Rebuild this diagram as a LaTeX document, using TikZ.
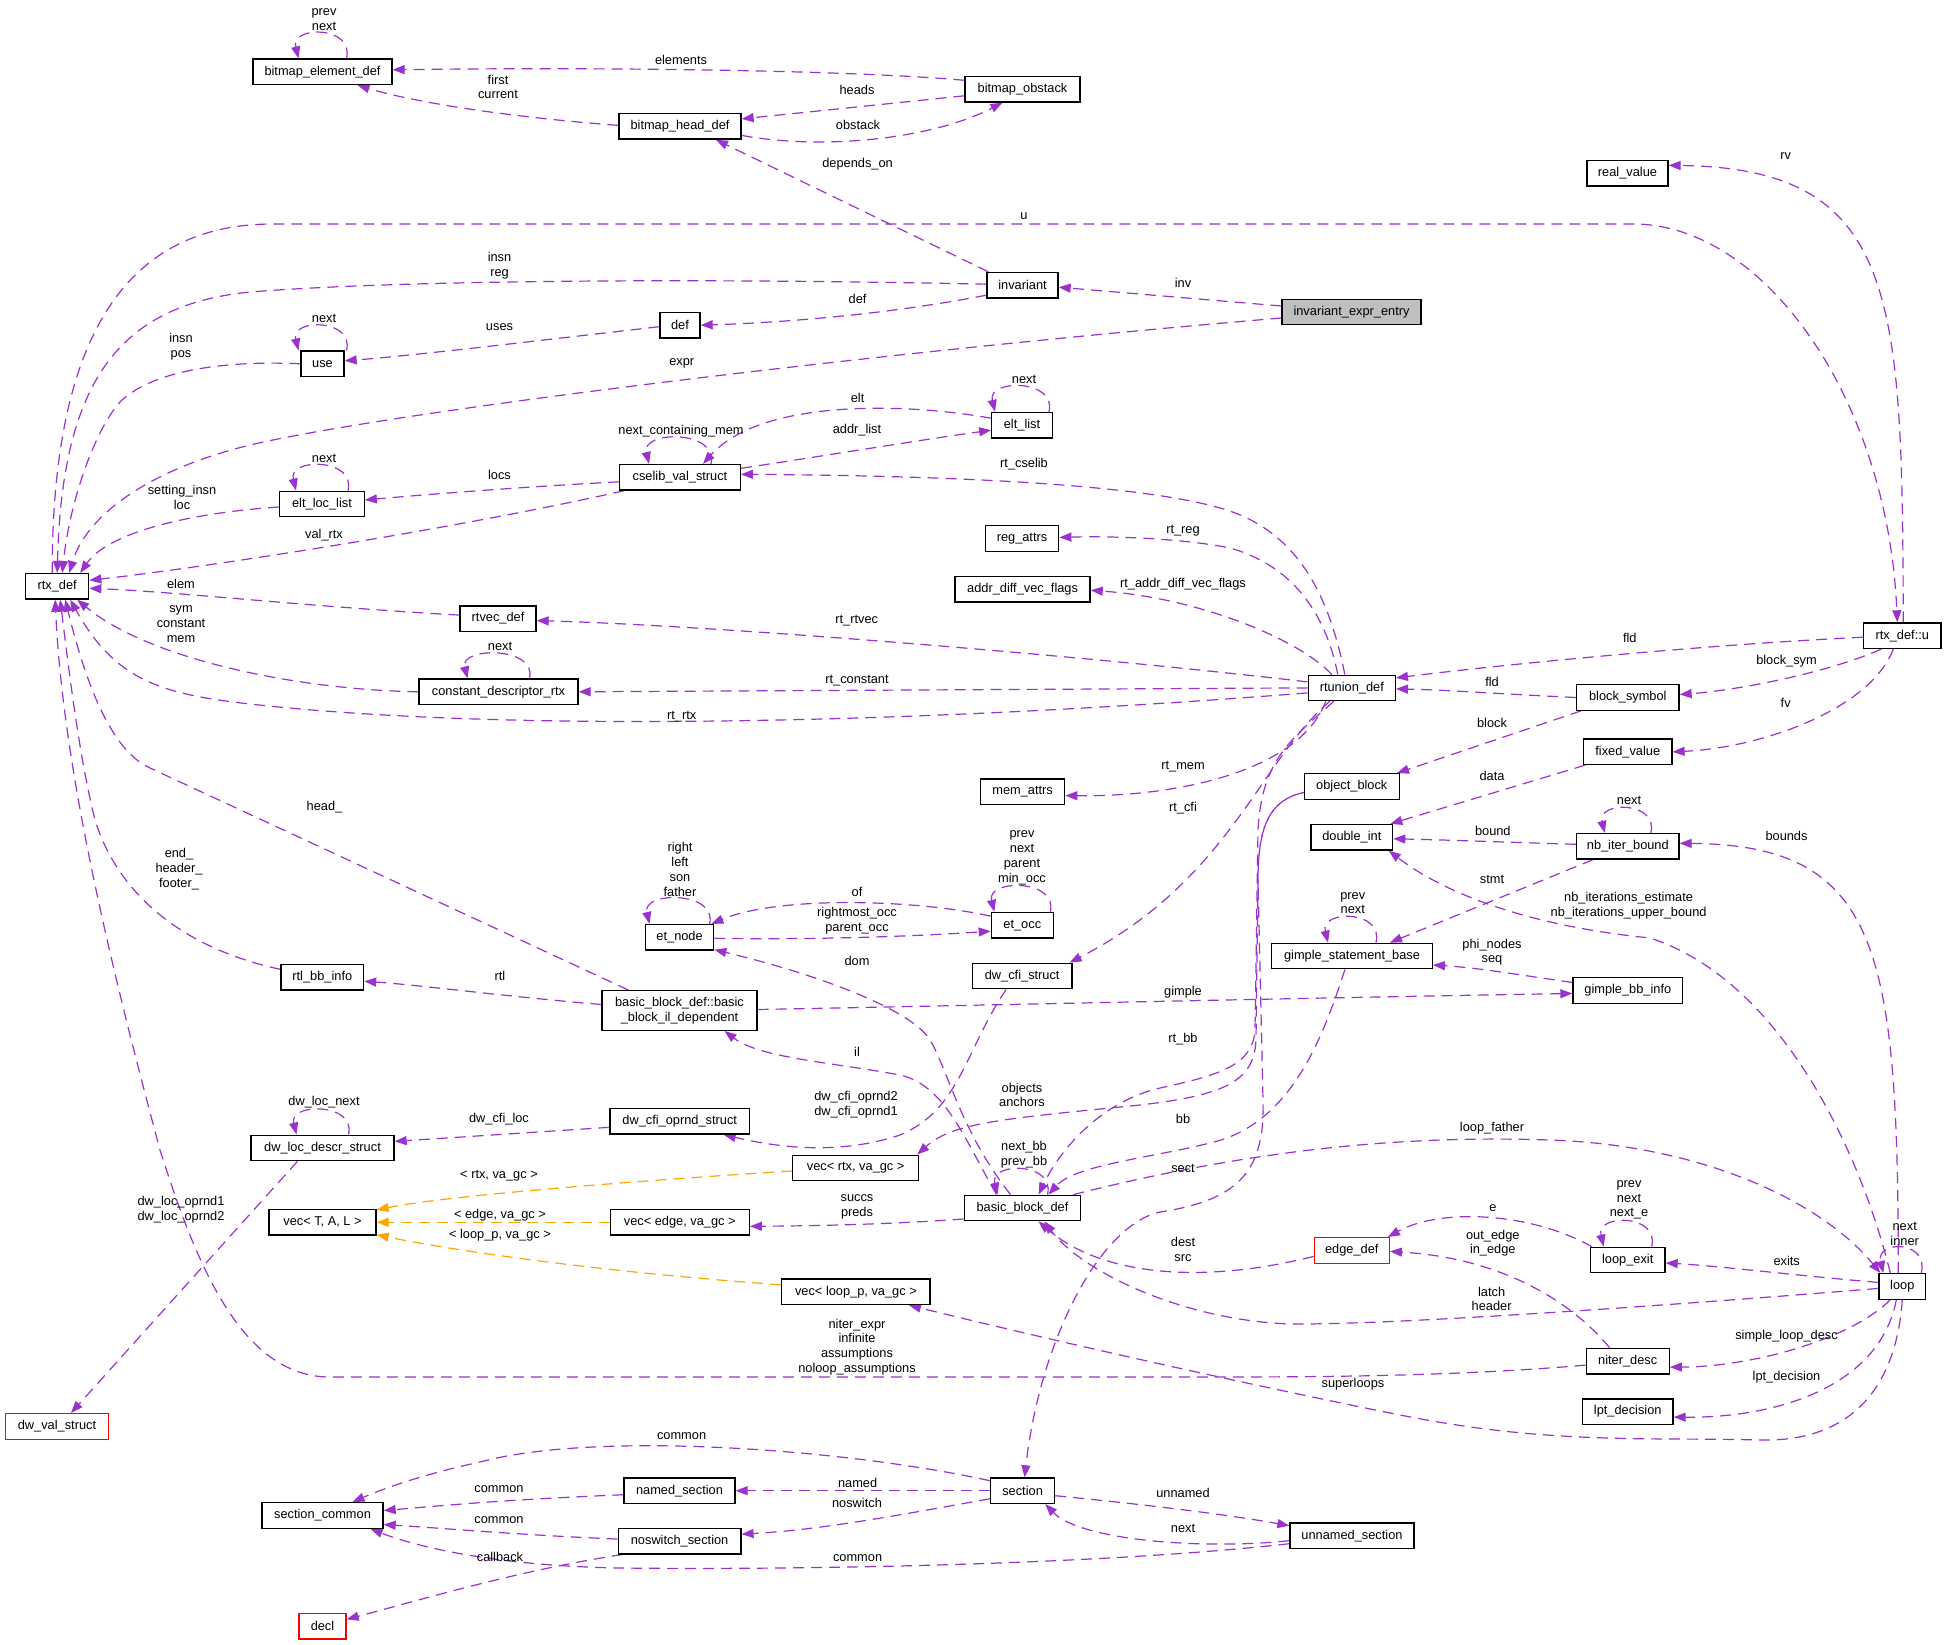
\documentclass[tikz,border=0pt]{standalone}
\usepackage{fontspec}
\setmainfont{Liberation Sans}
\usetikzlibrary{arrows.meta,calc,backgrounds}
\definecolor{edgec}{HTML}{9A32CD}
\definecolor{orgc}{HTML}{FFA500}
\definecolor{grayfill}{HTML}{BFBFBF}
\newcommand\lfont{\fontsize{12.8}{14.8}\selectfont}
\newcommand\myloop[3]{\draw[edg] ($(#1.north)+(#2,0)$) .. controls ($(#1.north)+(#2+8,-#3)$) and ($(#1.north)+(-#2-8,-#3)$) .. ($(#1.north)+(-#2,0)$);}
\begin{document}
\begin{tikzpicture}[x=1pt,y=-1pt,
 nbox/.style={draw=black, line width=1.3pt, fill=white, inner xsep=3pt, inner ysep=0pt, minimum height=25.5pt, font=\lfont, align=center},
 redbox/.style={nbox, draw=red},
 lbl/.style={font=\lfont, align=center, inner sep=0pt},
 edg/.style={draw=edgec, line width=1.2pt, dash pattern=on 11pt off 7pt, -{Triangle[length=12pt,width=9pt]}},
 edgo/.style={edg, draw=orgc}
]
\useasboundingbox (0,0) rectangle (1947,1645);
% ---------------- nodes ----------------
\node[nbox, minimum width=139] (bed) at (322.5,71.8) {bitmap\_element\_def};
\node[nbox, minimum width=122] (bhd) at (680,126.4) {bitmap\_head\_def};
\node[nbox, minimum width=115] (bo) at (1022.5,89.3) {bitmap\_obstack};
\node[nbox, minimum width=81] (rvl) at (1627.5,173.4) {real\_value};
\node[nbox, minimum width=71] (inv) at (1022.5,285.2) {invariant};
\node[nbox, minimum width=139, fill=grayfill] (iee) at (1351.5,312) {invariant\_expr\_entry};
\node[nbox, minimum width=40] (def) at (680,325.2) {def};
\node[nbox, minimum width=43] (use) at (322.5,363.8) {use};
\node[nbox, minimum width=60.5] (el) at (1022,425.2) {elt\_list};
\node[nbox, minimum width=120.5] (cvs) at (680,477.3) {cselib\_val\_struct};
\node[nbox, minimum width=84.5] (ell) at (322,504) {elt\_loc\_list};
\node[nbox, minimum width=73.5] (ra) at (1022,538.4) {reg\_attrs};
\node[nbox, minimum width=63] (rtx) at (57.2,586.3) {rtx\_def};
\node[nbox, minimum width=135] (adv) at (1022.6,589.3) {addr\_diff\_vec\_flags};
\node[nbox, minimum width=76] (rv) at (498,618.6) {rtvec\_def};
\node[nbox, minimum width=77.4] (rdu) at (1902.3,635.7) {rtx\_def::u};
\node[nbox, minimum width=87] (rtu) at (1351.8,687.9) {rtunion\_def};
\node[nbox, minimum width=159] (cdr) at (498.5,691.8) {constant\_descriptor\_rtx};
\node[nbox, minimum width=102.4] (bs) at (1627.8,697.5) {block\_symbol};
\node[nbox, minimum width=88.3] (fxv) at (1627.8,751.8) {fixed\_value};
\node[nbox, minimum width=95] (ob) at (1351.8,786.5) {object\_block};
\node[nbox, minimum width=84.2] (ma) at (1022.6,791.6) {mem\_attrs};
\node[nbox, minimum width=81.7] (di) at (1351.8,837.3) {double\_int};
\node[nbox, minimum width=102.4] (nib) at (1627.8,846.3) {nb\_iter\_bound};
\node[nbox, minimum width=62] (eo) at (1022.3,925.2) {et\_occ};
\node[nbox, minimum width=68.2] (en) at (679.6,937.3) {et\_node};
\node[nbox, minimum width=160.6] (gsb) at (1352,956) {gimple\_statement\_base};
\node[nbox, minimum width=99.5] (dcs) at (1022.2,976) {dw\_cfi\_struct};
\node[nbox, minimum width=82.6] (rbi) at (322.3,977.3) {rtl\_bb\_info};
\node[nbox, minimum width=109.6] (gbi) at (1627.8,990.5) {gimple\_bb\_info};
\node[nbox, minimum width=155, minimum height=39.7] (bbil) at (679.5,1010.5) {basic\_block\_def::basic\\\_block\_il\_dependent};
\node[nbox, minimum width=139.4] (dcos) at (679.7,1121.3) {dw\_cfi\_oprnd\_struct};
\node[nbox, minimum width=143] (dlds) at (322.5,1147.9) {dw\_loc\_descr\_struct};
\node[nbox, minimum width=125.8] (vr) at (855.7,1167.9) {vec< rtx, va\_gc >};
\node[nbox, minimum width=116.4] (bbd) at (1022.5,1208) {basic\_block\_def};
\node[nbox, minimum width=107] (vt) at (322.5,1222.3) {vec< T, A, L >};
\node[nbox, minimum width=139] (ve) at (679.8,1222.3) {vec< edge, va\_gc >};
\node[redbox, minimum width=75] (ed) at (1351.8,1250.4) {edge\_def};
\node[nbox, minimum width=74.6] (lex) at (1627.7,1260) {loop\_exit};
\node[nbox, minimum width=46.5] (loop) at (1902.3,1286.4) {loop};
\node[nbox, minimum width=148.2] (vl) at (855.9,1291.8) {vec< loop\_p, va\_gc >};
\node[nbox, minimum width=83] (nd) at (1627.7,1361.1) {niter\_desc};
\node[nbox, minimum width=90.5] (lpt) at (1627.7,1411.6) {lpt\_decision};
\node[redbox, minimum width=103] (dvs) at (57,1426.4) {dw\_val\_struct};
\node[nbox, minimum width=64] (sec) at (1022.6,1490.7) {section};
\node[nbox, minimum width=111] (ns) at (679.5,1490.7) {named\_section};
\node[nbox, minimum width=121] (scom) at (322.5,1515.5) {section\_common};
\node[nbox, minimum width=124] (uns) at (1352,1535.7) {unnamed\_section};
\node[nbox, minimum width=122.7] (nss) at (679.6,1541.1) {noswitch\_section};
\node[redbox, minimum width=47] (decl) at (322.5,1626.3) {decl};
% ---------------- labels ----------------
\node[lbl] (l1) at (324,19.3) {prev\\next};
\node[lbl] (l2) at (681,59.6) {elements};
\node[lbl] (l3) at (498,87) {first\\current};
\node[lbl] (l4) at (857,90.4) {heads};
\node[lbl] (l5) at (858,124.6) {obstack};
\node[lbl] (l6) at (857.6,164.6) {depends\_on};
\node[lbl] (l7) at (1785.7,155.7) {rv};
\node[lbl] (l8) at (1024,216) {u};
\node[lbl] (l9) at (499.5,265.5) {insn\\reg};
\node[lbl] (l10) at (1183,283.2) {inv};
\node[lbl] (l11) at (857.6,299.3) {def};
\node[lbl] (l12) at (324,318.6) {next};
\node[lbl] (l13) at (499.5,327.5) {uses};
\node[lbl] (l14) at (181,347) {insn\\pos};
\node[lbl] (l15) at (681.7,362.9) {expr};
\node[lbl] (l16) at (1024,379.6) {next};
\node[lbl] (l17) at (857.6,398.2) {elt};
\node[lbl] (l18) at (681,431.4) {next\_containing\_mem};
\node[lbl] (l19) at (857,430.4) {addr\_list};
\node[lbl] (l20) at (324,458.6) {next};
\node[lbl] (l21) at (1024,464.3) {rt\_cselib};
\node[lbl] (l22) at (499.5,475.4) {locs};
\node[lbl] (l23) at (182,497.6) {setting\_insn\\loc};
\node[lbl] (l24) at (324,535) {val\_rtx};
\node[lbl] (l25) at (1183,531) {rt\_reg};
\node[lbl] (l26) at (181,584) {elem};
\node[lbl] (l27) at (1183,584.6) {rt\_addr\_diff\_vec\_flags};
\node[lbl] (l28) at (181,624) {sym\\constant\\mem};
\node[lbl] (l29) at (856.7,620.7) {rt\_rtvec};
\node[lbl] (l30) at (1629.8,638.2) {fld};
\node[lbl] (l31) at (500,646.8) {next};
\node[lbl] (l32) at (1786.5,660.7) {block\_sym};
\node[lbl] (l33) at (857,680.7) {rt\_constant};
\node[lbl] (l34) at (1492,682.1) {fld};
\node[lbl] (l35) at (1785.7,702.5) {fv};
\node[lbl] (l36) at (681.7,716.4) {rt\_rtx};
\node[lbl] (l37) at (1492,722.5) {block};
\node[lbl] (l38) at (1183,766.8) {rt\_mem};
\node[lbl] (l39) at (1492,775.7) {data};
\node[lbl] (l40) at (1629,800.7) {next};
\node[lbl] (l41) at (324.5,807.5) {head\_};
\node[lbl] (l42) at (1183,808.6) {rt\_cfi};
\node[lbl] (l43) at (1492.8,831.4) {bound};
\node[lbl] (l44) at (1786.5,836.4) {bounds};
\node[lbl] (l45) at (1022,857.75) {prev\\next\\parent\\min\_occ};
\node[lbl] (l46) at (179,869) {end\_\\header\_\\footer\_};
\node[lbl] (l47) at (680,869.6) {right\\left\\son\\father};
\node[lbl] (l48) at (1492,879.6) {stmt};
\node[lbl] (l49) at (857,891.8) {of};
\node[lbl] (l50) at (1352.8,903.2) {prev\\next};
\node[lbl] (l51) at (1628.6,905.3) {nb\_iterations\_estimate\\nb\_iterations\_upper\_bound};
\node[lbl] (l52) at (857,920.4) {rightmost\_occ\\parent\_occ};
\node[lbl] (l53) at (1492,952.1) {phi\_nodes\\seq};
\node[lbl] (l54) at (857,960.7) {dom};
\node[lbl] (l55) at (500,976.4) {rtl};
\node[lbl] (l56) at (1183,991.8) {gimple};
\node[lbl] (l57) at (1183,1039.3) {rt\_bb};
\node[lbl] (l58) at (857,1051.4) {il};
\node[lbl] (l59) at (1022,1095) {objects\\anchors};
\node[lbl] (l60) at (856,1104.3) {dw\_cfi\_oprnd2\\dw\_cfi\_oprnd1};
\node[lbl] (l61) at (324,1102.5) {dw\_loc\_next};
\node[lbl] (l62) at (1183,1118.6) {bb};
\node[lbl] (l63) at (499,1119.6) {dw\_cfi\_loc};
\node[lbl] (l64) at (1492,1128.6) {loop\_father};
\node[lbl] (l65) at (1024,1155) {next\_bb\\prev\_bb};
\node[lbl] (l66) at (1183,1168.6) {sect};
\node[lbl] (l67) at (499,1176) {< rtx, va\_gc >};
\node[lbl] (l68) at (1629,1200) {prev\\next\\next\_e};
\node[lbl] (l69) at (857,1207.2) {succs\\preds};
\node[lbl] (l70) at (1492.8,1208) {e};
\node[lbl] (l71) at (181,1209.6) {dw\_loc\_oprnd1\\dw\_loc\_oprnd2};
\node[lbl] (l72) at (500,1215) {< edge, va\_gc >};
\node[lbl] (l73) at (1904.7,1233.75) {next\\inner};
\node[lbl] (l74) at (500,1235.4) {< loop\_p, va\_gc >};
\node[lbl] (l75) at (1492.8,1243.2) {out\_edge\\in\_edge};
\node[lbl] (l76) at (1183,1249.7) {dest\\src};
\node[lbl] (l77) at (1786.7,1260.7) {exits};
\node[lbl] (l78) at (1491.6,1298.9) {latch\\header};
\node[lbl] (l79) at (1786.5,1335.7) {simple\_loop\_desc};
\node[lbl] (l80) at (857,1346.9) {niter\_expr\\infinite\\assumptions\\noloop\_assumptions};
\node[lbl] (l81) at (1786.5,1376.8) {lpt\_decision};
\node[lbl] (l82) at (1353,1384.6) {superloops};
\node[lbl] (l83) at (681.6,1435.7) {common};
\node[lbl] (l84) at (857.6,1482.9) {named};
\node[lbl] (l85) at (499,1489) {common};
\node[lbl] (l86) at (1183,1492.5) {unnamed};
\node[lbl] (l87) at (857,1502.9) {noswitch};
\node[lbl] (l88) at (499,1520) {common};
\node[lbl] (l89) at (1183,1528.6) {next};
\node[lbl] (l90) at (500,1556.6) {callback};
\node[lbl] (l91) at (857.6,1558.6) {common};
% ---------------- edges ----------------
\begin{pgfonlayer}{background}
\fill[white] (0,0) rectangle (1947,1645);
% self loops
\myloop{bed}{24}{33}
\myloop{use}{24}{32}
\myloop{el}{27}{33}
\myloop{cvs}{31}{34}
\myloop{ell}{26}{33}
\myloop{cdr}{31}{32}
\myloop{nib}{23}{32}
\myloop{gsb}{24}{33}
\myloop{en}{30}{33}
\myloop{eo}{28}{33}
\myloop{dlds}{26}{32}
\myloop{bbd}{25}{33}
\myloop{lex}{24}{33}
\myloop{loop}{19}{33}
% bitmap group
\draw[edg] ($(bo.west)+(0,-9)$) .. controls (850,70) and (600,67) .. ($(bed.east)+(0,-2)$);
\draw[edg] ($(bhd.west)+(0,-1)$) .. controls (520,118) and (420,104) .. ($(bed.south)+(35,0)$);
\draw[edg] ($(bo.west)+(0,6.5)$) -- ($(bhd.east)+(0,-7.5)$);
\draw[edg] ($(bhd.east)+(0,9)$) .. controls (820,150) and (930,140) .. ($(bo.south)+(-20,0)$);
\draw[edg] ($(inv.north west)+(2,0)$) -- ($(bhd.south)+(36,0)$);
% u and rv
\draw[edg] ($(rtx.north)+(-5,0)$) .. controls (52,330) and (130,224) .. (273,224) -- (1633,224) .. controls (1765,224) and (1888,400) .. ($(rdu.north)+(-5,0)$);
\draw[edg] ($(rdu.north)+(1,0)$) .. controls (1902,300) and (1900,168) .. ($(rvl.east)+(0,-8)$);
% invariant group
\draw[edg] ($(inv.west)+(0,-1)$) .. controls (700,278) and (400,280) .. (250,292) .. controls (120,305) and (62,380) .. (rtx.north);
\draw[edg] (use.west) .. controls (220,360) and (150,372) .. (120,402) .. controls (95,430) and (70,500) .. ($(rtx.north)+(5,0)$);
\draw[edg] ($(iee.west)+(0,-6)$) -- ($(inv.east)+(0,2)$);
\draw[edg] ($(iee.west)+(0,6)$) .. controls (900,350) and (400,410) .. (250,445) .. controls (140,472) and (85,520) .. ($(rtx.north)+(12,0)$);
\draw[edg] ($(inv.west)+(0,10)$) .. controls (900,312) and (800,322) .. (def.east);
\draw[edg] ($(def.west)+(0,1.5)$) .. controls (560,338) and (420,355) .. ($(use.east)+(0,-3)$);
% cselib group
\draw[edg] ($(el.west)+(0,-7)$) .. controls (900,402) and (760,400) .. ($(cvs.north)+(23,0)$);
\draw[edg] ($(cvs.east)+(0,-9)$) .. controls (830,455) and (920,440) .. ($(el.west)+(0,5)$);
\draw[edg] ($(cvs.west)+(0,4.5)$) .. controls (520,487) and (420,495) .. ($(ell.east)+(0,-4)$);
\draw[edg] ($(ell.west)+(0,3)$) .. controls (200,512) and (110,530) .. ($(rtx.north)+(23,0)$);
\draw[edg] ($(cvs.south west)+(5,0)$) .. controls (450,530) and (200,568) .. ($(rtx.east)+(0,-6)$);
% rtunion group
\draw[edg] ($(rtu.north)+(-7,0)$) .. controls (1330,600) and (1300,530) .. (1220,508) .. controls (1150,488) and (1000,476) .. ($(cvs.east)+(0,-3)$);
\draw[edg] ($(rtu.north)+(-14,0)$) .. controls (1325,610) and (1290,565) .. (1230,548) .. controls (1180,538) and (1110,536) .. ($(ra.east)+(0,-1)$);
\draw[edg] ($(rtu.north)+(-20,0)$) .. controls (1300,640) and (1200,598) .. ($(adv.east)+(0,1)$);
\draw[edg] ($(rv.west)+(0,-3.5)$) .. controls (300,606) and (180,592) .. ($(rtx.east)+(0,2)$);
\draw[edg] ($(rtu.west)+(0,-6)$) .. controls (1050,652) and (700,625) .. ($(rv.east)+(0,2)$);
\draw[edg] (cdr.west) .. controls (300,690) and (150,660) .. ($(rtx.south)+(20,0)$);
\draw[edg] (rtu.west) -- (cdr.east);
\draw[edg] ($(rtu.west)+(0,5)$) .. controls (900,725) and (500,732) .. (250,704) .. controls (160,694) and (115,680) .. ($(rtx.south)+(13,0)$);
\draw[edg] ($(rdu.west)+(0,1.5)$) .. controls (1700,645) and (1500,665) .. ($(rtu.east)+(0,-10)$);
\draw[edg] (bs.west) .. controls (1500,694) and (1450,690) .. ($(rtu.east)+(0,1)$);
\draw[edg] ($(rdu.south)+(-21,0)$) .. controls (1830,672) and (1740,690) .. ($(bs.east)+(0,-3)$);
\draw[edg] ($(rdu.south)+(-9,0)$) .. controls (1870,710) and (1760,748) .. (fxv.east);
\draw[edg] ($(rtu.south)+(-26,0)$) .. controls (1300,770) and (1180,797) .. ($(ma.east)+(0,4)$);
\draw[edg] ($(rtu.south)+(-22,0)$) .. controls (1260,760) and (1230,880) .. ($(dcs.north east)+(-3,0)$);
\draw[edg] ($(rtu.south)+(-18,0)$) .. controls (1290,740) and (1262,760) .. (1258,830) -- (1255,1030) .. controls (1253,1065) and (1220,1075) .. (1160,1088) .. controls (1100,1102) and (1060,1150) .. ($(bbd.north)+(16,0)$);
% symbol / double_int group
\draw[edg] ($(bs.south west)+(5,0)$) -- ($(ob.north east)+(-3,0)$);
\draw[edg] ($(fxv.south west)+(2,0)$) -- ($(di.north east)+(-3,0)$);
\draw[edg] ($(nib.west)+(0,-2)$) .. controls (1500,842) and (1450,840) .. ($(di.east)+(0,1.5)$);
\draw[edg] ($(loop.north)+(-4,0)$) .. controls (1898,950) and (1880,845) .. ($(nib.east)+(0,-3)$);
\draw[edg] ($(loop.north)+(-12,0)$) .. controls (1860,1150) and (1780,980) .. (1650,938) .. controls (1520,925) and (1440,890) .. ($(di.south)+(37,0)$);
\draw[edg] ($(nib.south west)+(17,0)$) -- ($(gsb.north)+(38,0)$);
\draw[edg] ($(gbi.west)+(0,-8)$) .. controls (1520,975) and (1480,968) .. ($(gsb.east)+(0,9)$);
\draw[edg] ($(bbil.east)+(0,-1)$) .. controls (1000,1005) and (1300,998) .. ($(gbi.west)+(0,3)$);
\draw[edg] ($(bbil.west)+(0,-6)$) .. controls (500,996) and (420,985) .. ($(rbi.east)+(0,4)$);
\draw[edg] ($(bbil.north west)+(27,0)$) -- (150,768) .. controls (110,750) and (85,680) .. ($(rtx.south)+(8,0)$);
\draw[edg] ($(rbi.west)+(0,-8)$) .. controls (190,950) and (120,900) .. (95,820) .. controls (80,760) and (70,680) .. ($(rtx.south)+(3,0)$);
\draw[edg] ($(nd.west)+(0,4)$) .. controls (1450,1377) and (1300,1377) .. (1200,1377) -- (330,1377) .. controls (240,1377) and (195,1260) .. (160,1150) .. controls (120,1000) and (63,780) .. ($(rtx.south)+(-2,0)$);
% et group
\draw[edg] ($(eo.west)+(0,-9)$) .. controls (920,900) and (780,895) .. ($(en.north east)+(-3,0)$);
\draw[edg] ($(en.east)+(0,1)$) .. controls (820,940) and (920,936) .. ($(eo.west)+(0,6)$);
\draw[edg] ($(bbd.north)+(-12,0)$) .. controls (960,1130) and (948,1070) .. (930,1040) .. controls (912,1010) and (820,975) .. ($(en.south east)+(0,-1)$);
\draw[edg] ($(bbd.north)+(-26,0)$) .. controls (965,1140) and (945,1085) .. (900,1075) .. controls (830,1062) and (760,1058) .. ($(bbil.south)+(45,0)$);
% dwarf group
\draw[edg] ($(dcs.south)+(-16,0)$) .. controls (965,1050) and (960,1110) .. (900,1135) .. controls (840,1155) and (780,1148) .. ($(dcos.south)+(44,0)$);
\draw[edg] ($(dcos.west)+(0,6)$) -- ($(dlds.east)+(0,-6.5)$);
\draw[edg] ($(dlds.south)+(-25,0)$) -- ($(dvs.north)+(14,0)$);
% vec templates
\draw[edgo] ($(vr.west)+(0,3)$) .. controls (650,1180) and (450,1195) .. ($(vt.north east)+(0,1)$);
\draw[edgo] (ve.west) -- (vt.east);
\draw[edgo] ($(vl.west)+(0,-7)$) .. controls (600,1272) and (450,1250) .. ($(vt.south east)+(0,-1)$);
% object_block
\draw[edg] ($(ob.west)+(0,6)$) .. controls (1270,800) and (1258,825) .. (1258,880) -- (1256,1040) .. controls (1254,1085) and (1220,1098) .. (1110,1108) .. controls (990,1120) and (950,1125) .. ($(vr.north east)+(-2,0)$);
\draw[edg, dash phase=9pt] ($(ob.west)+(0,6)$) .. controls (1270,800) and (1258,825) .. (1258,880) -- (1263,1100) .. controls (1265,1170) and (1240,1200) .. (1160,1212) .. controls (1100,1225) and (1040,1340) .. ($(sec.north)+(2,0)$);
% basic block group
\draw[edg] ($(gsb.south)+(-7,0)$) .. controls (1322,1040) and (1290,1125) .. (1210,1143) .. controls (1150,1158) and (1075,1165) .. ($(bbd.north)+(26,0)$);
\draw[edg] ($(bbd.west)+(0,11)$) .. controls (880,1225) and (800,1226) .. ($(ve.east)+(0,4)$);
\draw[edg] ($(bbd.north east)+(-8,0)$) .. controls (1250,1150) and (1400,1135) .. (1550,1140) .. controls (1700,1145) and (1820,1200) .. ($(loop.north west)+(2,0)$);
\draw[edg] ($(loop.west)+(0,2)$) .. controls (1700,1303) and (1400,1325) .. (1290,1324) .. controls (1180,1320) and (1080,1270) .. ($(bbd.south)+(22,0)$);
\draw[edg] ($(ed.west)+(0,6)$) .. controls (1200,1285) and (1100,1275) .. ($(bbd.south)+(16,0)$);
% loop group
\draw[edg] ($(lex.north west)+(2,0)$) .. controls (1530,1212) and (1440,1208) .. ($(ed.north east)+(-2,0)$);
\draw[edg] ($(nd.north west)+(24,0)$) .. controls (1570,1300) and (1500,1258) .. ($(ed.east)+(0,1)$);
\draw[edg] ($(loop.west)+(0,-4)$) .. controls (1800,1276) and (1720,1266) .. ($(lex.east)+(0,3)$);
\draw[edg] ($(loop.south)+(-12,0)$) .. controls (1850,1340) and (1750,1367) .. ($(nd.east)+(0,6)$);
\draw[edg] ($(loop.south)+(-6,0)$) .. controls (1880,1385) and (1780,1418) .. ($(lpt.east)+(0,5.5)$);
\draw[edg] (loop.south) .. controls (1895,1400) and (1840,1442) .. (1760,1440) .. controls (1650,1437) and (1550,1445) .. (1400,1415) .. controls (1250,1385) and (1050,1340) .. ($(vl.south)+(53,0)$);
% section group
\draw[edg] ($(sec.west)+(0,-10)$) .. controls (850,1450) and (600,1430) .. (480,1462) .. controls (420,1475) and (380,1490) .. ($(scom.north)+(30,0)$);
\draw[edg] (sec.west) -- (ns.east);
\draw[edg] ($(ns.west)+(0,4)$) .. controls (500,1500) and (450,1505) .. ($(scom.east)+(0,-5)$);
\draw[edg] ($(sec.west)+(0,8)$) .. controls (900,1515) and (820,1530) .. ($(nss.east)+(0,-7)$);
\draw[edg] ($(nss.west)+(0,-2)$) .. controls (520,1535) and (440,1528) .. ($(scom.east)+(0,9)$);
\draw[edg] ($(nss.south west)+(5,0)$) .. controls (520,1570) and (420,1600) .. ($(decl.east)+(0,-7)$);
\draw[edg] ($(uns.west)+(0,8)$) .. controls (1100,1565) and (800,1570) .. (620,1568) .. controls (500,1566) and (420,1548) .. ($(scom.south)+(48,0)$);
\draw[edg] ($(sec.east)+(0,5)$) .. controls (1150,1505) and (1230,1515) .. ($(uns.west)+(0,-10)$);
\draw[edg] ($(uns.west)+(0,5)$) .. controls (1200,1550) and (1080,1540) .. ($(sec.south east)+(-10,0)$);
\end{pgfonlayer}
\end{tikzpicture}
\end{document}
